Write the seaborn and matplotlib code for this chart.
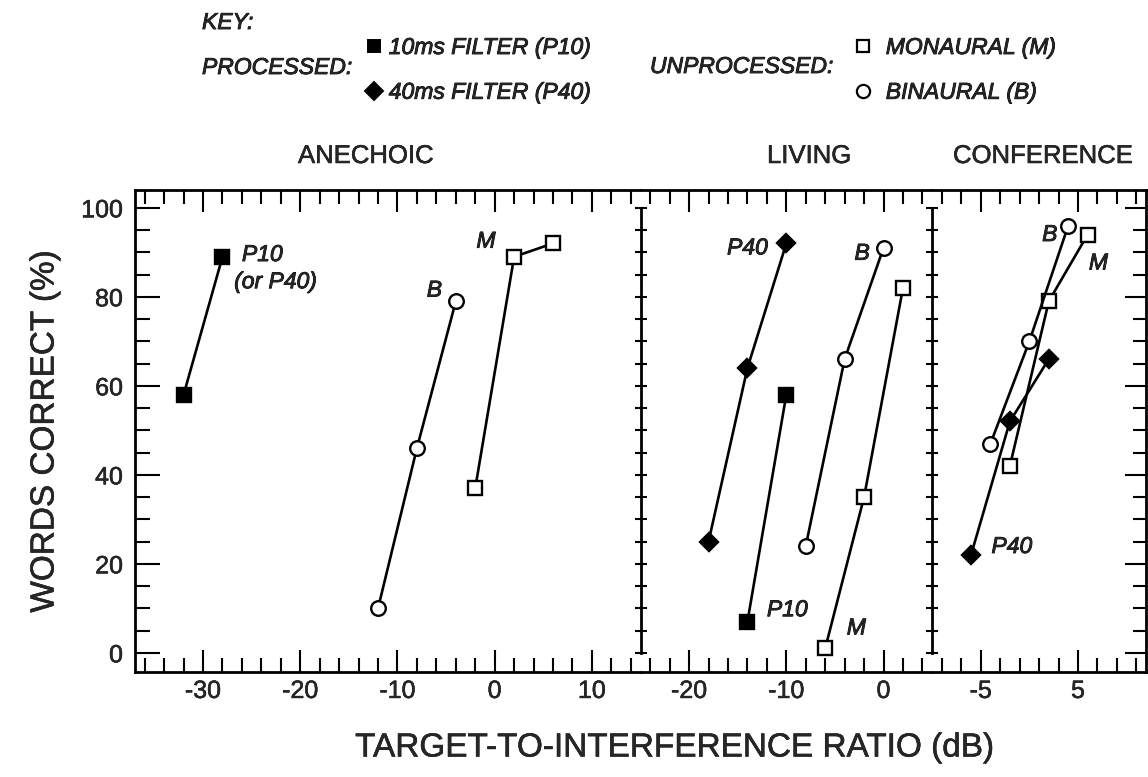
import matplotlib
matplotlib.use("Agg")
import matplotlib.pyplot as plt
import matplotlib.patheffects as pe
from matplotlib.ticker import MultipleLocator, FixedLocator, NullLocator
from matplotlib.lines import Line2D
import seaborn as sns

# ---- data: target-to-interference ratio (dB) vs. words correct (%) ----
# Anechoic room
ane_p10_x = [-32, -28]
ane_p10_y = [58, 89]
ane_b_x = [-12, -8, -4]
ane_b_y = [10, 46, 79]
ane_m_x = [-2, 2, 6]
ane_m_y = [37, 89, 92]

# Living room
liv_p40_x = [-18, -14, -10]
liv_p40_y = [25, 64, 92]
liv_p10_x = [-14, -10]
liv_p10_y = [7, 58]
liv_b_x = [-8, -4, 0]
liv_b_y = [24, 66, 91]
liv_m_x = [-6, -2, 2]
liv_m_y = [1, 35, 82]

# Conference room
con_p40_x = [-6, -2, 2]
con_p40_y = [22, 52, 66]
con_b_x = [-4, 0, 4]
con_b_y = [47, 70, 96]
con_m_x = [-2, 2, 6]
con_m_y = [42, 79, 94]

room_names = ["ANECHOIC", "LIVING", "CONFERENCE"]
x_limits = [(-37, 15), (-25, 5), (-10, 12)]
x_major = [[-30, -20, -10, 0, 10], [-20, -10, 0], [-5, 5]]
x_minor = [list(range(-36, 15, 2)), list(range(-24, 5, 2)),
           [-9, -7, -3, -1, 1, 3, 7, 9, 11]]

key_processed = ["10ms FILTER (P10)", "40ms FILTER (P40)"]
key_unprocessed = ["MONAURAL (M)", "BINAURAL (B)"]

sns.set_style("white")
plt.rcParams["font.family"] = ["Liberation Sans", "DejaVu Sans"]
plt.rcParams["axes.unicode_minus"] = False

# slightly heavier glyphs, like a printed figure
INK = [pe.withStroke(linewidth=0.35, foreground="black")]
INK_KEY = [pe.withStroke(linewidth=0.6, foreground="black")]

STYLE = {
    "P10": dict(marker="s", markerfacecolor="black", markersize=10),
    "P40": dict(marker="D", markerfacecolor="black", markersize=9),
    "M": dict(marker="s", markerfacecolor="white", markersize=9.5),
    "B": dict(marker="o", markerfacecolor="white", markersize=10.5),
}

panels = [
    [("P10", ane_p10_x, ane_p10_y), ("B", ane_b_x, ane_b_y), ("M", ane_m_x, ane_m_y)],
    [("P40", liv_p40_x, liv_p40_y), ("P10", liv_p10_x, liv_p10_y),
     ("B", liv_b_x, liv_b_y), ("M", liv_m_x, liv_m_y)],
    [("P40", con_p40_x, con_p40_y), ("M", con_m_x, con_m_y), ("B", con_b_x, con_b_y)],
]

# curve labels: (text, x, y, ha)
curve_labels = [
    [("P10", -26, 89.5, "left"), ("(or P40)", -26.8, 83.4, "left"),
     ("B", -6.2, 81.5, "center"), ("M", -0.9, 92.5, "center")],
    [("P40", -14.0, 91.0, "center"), ("B", -2.2, 89.8, "center"),
     ("P10", -9.9, 9.7, "center"), ("M", -2.8, 5.6, "center")],
    [("B", 2.1, 94.0, "center"), ("M", 7.1, 87.6, "center"),
     ("P40", -1.8, 23.9, "center")],
]

W, H = 1148, 777
fig = plt.figure(figsize=(W / 100, H / 100), dpi=100)
gs = fig.add_gridspec(1, 3, width_ratios=[b - a for a, b in x_limits], wspace=0,
                      left=135 / W, right=1146 / W, bottom=(H - 672) / H, top=(H - 190) / H)
axes = [fig.add_subplot(gs[0, i]) for i in range(3)]

YLIM = (-4.3, 104.0)
LW_SPINE = 2.0

for i, ax in enumerate(axes):
    for name, xs, ys in panels[i]:
        st = STYLE[name]
        sns.lineplot(x=xs, y=ys, ax=ax, color="black", lw=1.9, sort=False,
                     estimator=None, errorbar=None, markeredgecolor="black",
                     markeredgewidth=1.7, **st)
    for txt, tx, ty, ha in curve_labels[i]:
        ax.text(tx, ty, txt, ha=ha, va="center", fontsize=16.5, style="italic",
                path_effects=INK_KEY)

    ax.set_xlim(*x_limits[i])
    ax.set_ylim(*YLIM)
    ax.set_xlabel("")
    ax.set_ylabel("")

    ax.xaxis.set_major_locator(FixedLocator(x_major[i]))
    ax.xaxis.set_minor_locator(FixedLocator(x_minor[i]))
    ax.tick_params(axis="x", which="both", direction="in", top=True, bottom=True,
                   width=1.5, labelsize=18, pad=5, color="black")
    ax.tick_params(axis="x", which="major", length=16)
    ax.tick_params(axis="x", which="minor", length=10)

    for side in ["top", "bottom", "left", "right"]:
        ax.spines[side].set_color("black")
        ax.spines[side].set_linewidth(LW_SPINE)
    ax.spines["right"].set_visible(False)

    if i == 0:
        ax.yaxis.set_major_locator(MultipleLocator(20))
        ax.yaxis.set_minor_locator(MultipleLocator(5))
        ax.tick_params(axis="y", which="both", direction="in", left=True, right=False,
                       width=1.5, labelsize=18, pad=8.6, color="black")
        ax.tick_params(axis="y", which="major", length=18)
        ax.tick_params(axis="y", which="minor", length=10.8)
    else:
        # room divider: vertical line from 0 to 100 with crossing ticks
        ax.spines["left"].set_bounds(0, 100)
        ax.yaxis.set_major_locator(MultipleLocator(5))
        ax.yaxis.set_minor_locator(NullLocator())
        ax.tick_params(axis="y", which="major", direction="inout", left=True, right=False,
                       length=8.6, width=1.5, labelleft=False, color="black")

    for lab in ax.get_xticklabels() + ax.get_yticklabels():
        lab.set_path_effects(INK)

# right-hand frame of the conference panel
sec = axes[2].secondary_yaxis("right")
sec.spines["right"].set_linewidth(LW_SPINE)
sec.spines["right"].set_color("black")
sec.yaxis.set_major_locator(MultipleLocator(20))
sec.yaxis.set_minor_locator(MultipleLocator(5))
sec.tick_params(axis="y", which="both", direction="in", width=1.5, labelright=False,
                color="black")
sec.tick_params(axis="y", which="major", length=15)
sec.tick_params(axis="y", which="minor", length=9.5)

# room titles
title_left = [298, 767, 953]
for name, xl in zip(room_names, title_left):
    fig.text(xl / W, (H - 163) / H, name, ha="left", va="baseline", fontsize=18.5,
             path_effects=INK)

# axis labels
fig.text(675 / W, (H - 748) / H, "TARGET-TO-INTERFERENCE RATIO (dB)",
         ha="center", va="center", fontsize=24, path_effects=INK)
fig.text(45 / W, (H - 431) / H, "WORDS CORRECT (%)", rotation=90,
         ha="center", va="center", fontsize=24, path_effects=INK)

# key
key_font = dict(fontsize=16.5, style="italic", path_effects=INK_KEY)
fig.text(202 / W, (H - 29) / H, "KEY:", ha="left", va="baseline", **key_font)
fig.text(202 / W, (H - 74) / H, "PROCESSED:", ha="left", va="baseline", **key_font)
fig.text(650 / W, (H - 73) / H, "UNPROCESSED:", ha="left", va="baseline", **key_font)

h_proc = [Line2D([], [], ls="none", color="black", markeredgecolor="black",
                 markeredgewidth=1.4, marker=STYLE[k]["marker"],
                 markerfacecolor=STYLE[k]["markerfacecolor"], markersize=ms)
          for k, ms in [("P10", 9), ("P40", 9)]]
h_unproc = [Line2D([], [], ls="none", color="black", markeredgecolor="black",
                   markeredgewidth=1.6, marker=STYLE[k]["marker"],
                   markerfacecolor=STYLE[k]["markerfacecolor"], markersize=ms)
            for k, ms in [("M", 9), ("B", 9.5)]]

leg_kw = dict(loc="upper left", frameon=False, borderpad=0, borderaxespad=0,
              handlelength=0.6, labelspacing=0.95,
              prop=dict(size=16.5, style="italic"))
leg1 = fig.legend(h_proc, key_processed, bbox_to_anchor=(367 / W, (H - 36) / H),
                  handletextpad=0.35, **leg_kw)
leg2 = fig.legend(h_unproc, key_unprocessed, bbox_to_anchor=(856 / W, (H - 36) / H),
                  handletextpad=0.7, **leg_kw)
for leg in (leg1, leg2):
    for t in leg.get_texts():
        t.set_path_effects(INK_KEY)

fig.savefig("out.png", dpi=100)
